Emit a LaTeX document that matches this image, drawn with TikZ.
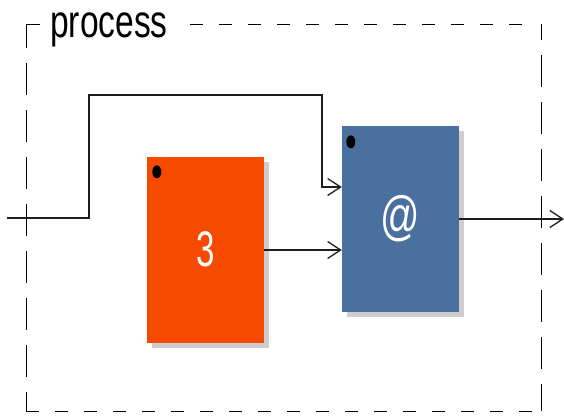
\documentclass[tikz,border=0pt]{standalone}
\usepackage{fontspec}
\setmainfont{Liberation Sans}
\usetikzlibrary{arrows.meta,shadows}
\definecolor{orangebox}{RGB}{245,74,0}
\definecolor{bluebox}{RGB}{74,112,160}
\definecolor{shadowgray}{RGB}{205,205,205}
\definecolor{wire}{RGB}{30,30,30}
\begin{document}
\begin{tikzpicture}[x=1pt,y=-1pt,
  blockbox/.style={draw=none,inner sep=0pt,minimum width=117pt,minimum height=186pt,
    text=white,font=\fontsize{50}{50}\selectfont,
    drop shadow={shadow xshift=5pt,shadow yshift=-5pt,fill=shadowgray,opacity=1}},
  wireline/.style={draw=wire,line width=1.3pt},
  arrowwire/.style={wireline,-{Straight Barb[length=13pt,width=17pt,line width=1.3pt]}},
  hdash/.style={draw=black,line width=1pt,dash pattern=on 13pt off 16pt},
  vdash/.style={draw=black,line width=1pt,dash pattern=on 32pt off 15pt},
  dotmark/.style={fill=black,draw=none}]
\useasboundingbox (0,0) rectangle (564,415);
% frame
\draw[hdash] (190,24) -- (524,24);
\draw[black,line width=1pt] (40,24) -- (26,24);
\draw[vdash,dash phase=8pt] (26,24) -- (26,411);
\draw[hdash] (26,411) -- (541,411);
\draw[vdash,dash phase=16pt] (541,24) -- (541,411);
\node[anchor=base west,inner sep=0pt,font=\fontsize{46}{46}\selectfont] (title) at (50,37) {\scalebox{0.73}[1]{process}};
% blocks
\node[blockbox,fill=orangebox] (orange) at (205.5,250) {\raisebox{2pt}{\scalebox{0.66}[1]{3}}};
\node[blockbox,fill=bluebox] (blue) at (400.5,219) {\raisebox{-1pt}{\fontsize{54}{54}\selectfont\scalebox{0.72}[1]{@}}};
\fill[dotmark] ([xshift=10pt,yshift=-15pt]orange.north west) ellipse [x radius=4.5pt,y radius=6.5pt];
\fill[dotmark] ([xshift=9pt,yshift=-16pt]blue.north west) ellipse [x radius=4.5pt,y radius=6.5pt];
% connectors
\coordinate (in) at (7,218);
\coordinate (out) at (564,219);
\coordinate (bend1) at (89,218);
\coordinate (bend2) at (89,95);
\coordinate (bend3) at (322,95);
\draw[arrowwire] (in) -- (bend1) -- (bend2) -- (bend3) |- ([yshift=32pt]blue.west);
\draw[arrowwire] (orange.east) -- (orange.east -| blue.west);
\draw[arrowwire] (blue.east) -- (out);
\end{tikzpicture}
\end{document}
